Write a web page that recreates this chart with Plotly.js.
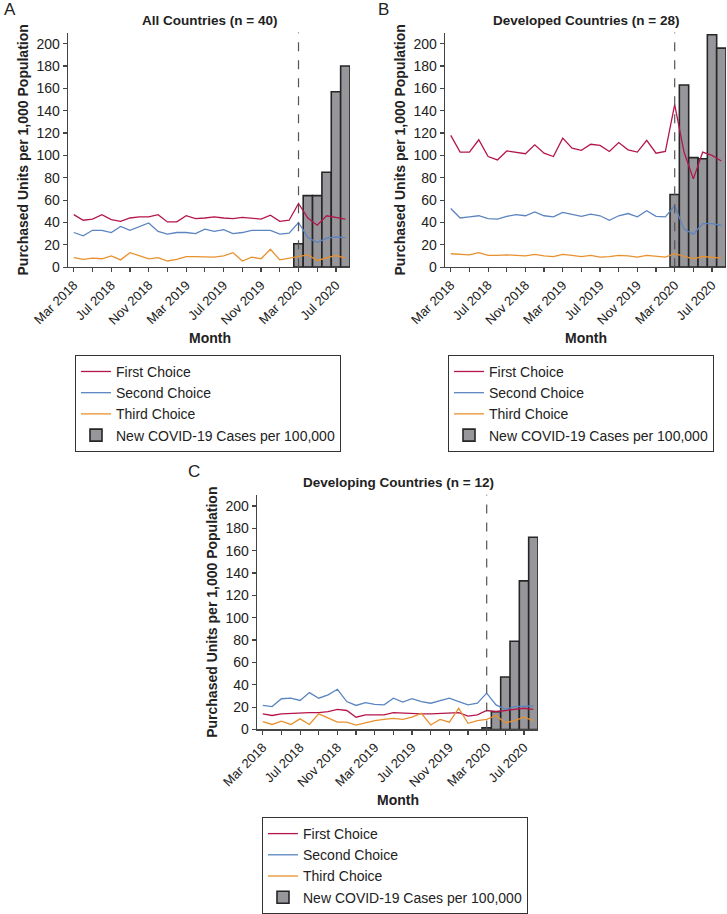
<!DOCTYPE html>
<html>
<head>
<meta charset="utf-8">
<script src="https://cdn.plot.ly/plotly-3.0.1.min.js"></script>
<style>html,body{margin:0;padding:0;background:#fff;}#chart{width:727px;height:914px;}</style>
</head>
<body>
<div id="chart"></div>
<script>
// ---- Data ----
const months = ['Mar 2018','Apr 2018','May 2018','Jun 2018','Jul 2018','Aug 2018','Sep 2018','Oct 2018','Nov 2018','Dec 2018',
  'Jan 2019','Feb 2019','Mar 2019','Apr 2019','May 2019','Jun 2019','Jul 2019','Aug 2019','Sep 2019','Oct 2019',
  'Nov 2019','Dec 2019','Jan 2020','Feb 2020','Mar 2020','Apr 2020','May 2020','Jun 2020','Jul 2020','Aug 2020'];
const caseMonths = ['Mar 2020','Apr 2020','May 2020','Jun 2020','Jul 2020','Aug 2020'];
const tickMonths = ['Mar 2018','May 2018','Jul 2018','Sep 2018','Nov 2018','Jan 2019','Mar 2019','May 2019','Jul 2019','Sep 2019','Nov 2019','Jan 2020','Mar 2020','May 2020','Jul 2020'];
const tickLabels = ['Mar 2018','','Jul 2018','','Nov 2018','','Mar 2019','','Jul 2019','','Nov 2019','','Mar 2020','','Jul 2020'];
const yTicks = [0,20,40,60,80,100,120,140,160,180,200];

const allFirst  = [47,42,43,47,42.5,41,44,45,45,47,40.5,40.5,46,43.5,44,45,44,43.5,44.5,44,43,46.5,41,42,57,44,37.5,46,44.5,43];
const allSecond = [31,28,33,33,31,36.5,33,36,39.5,32,29.5,31,31,30,34,32,33.5,30,31,33,33,33,29.5,30.5,40,26.5,22,26,27,26.5];
const allThird  = [8.5,7,8,7.5,10,6.5,13,10.5,7.5,8.5,5.5,7,9.5,9.5,9.5,9,10,13,5.5,9,7.5,16,6.5,8,10,11,6,8,10.5,8];
const allCases  = [21,64,64,85,157,180];

const devFirst  = [118,103,103,114,99,96,104,103,101.5,109.5,102,99,115.5,106.5,104.5,110,109,103.5,111.5,105,103,113.5,102,103.5,145.5,103,79,103,100,95];
const devSecond = [52.5,44,45,46,43.5,43,45.5,47,46,49.5,46,45,49,47,45.5,47.5,46,42,46,48,45,50.5,45.5,45,55,34,29.5,39,39,37.5];
const devThird  = [12,11.5,11,13,10.5,10.5,11,10.5,10,11.5,10,9.5,11.5,10.5,9.5,10.5,9,9.5,10.5,10,9,10.5,10,9,12,9.5,7.5,9.5,9,8];
const devCases  = [65,163,98,97,208,196];

const dvgFirst  = [14,12.5,14,14.5,15,15,15,16,18,17,11,13,13,13,15,14.5,14.5,14,14,14.5,14.5,15,12,13,17,16,17,18,19,18];
const dvgSecond = [21.5,20.5,27.5,28,26,33,28,31,36,25,21.5,24,22.5,22,28,24.5,27.5,25,23.5,26,28,25,22,23.5,32.5,22,18,20.5,20.5,21];
const dvgThird  = [7,4.5,7.5,4.5,9.5,4.5,14,10,6.5,6.5,4,6,8,9,10,9,11,14.5,4,9,6.5,19,5.5,8,9,12.5,6,8,11,8];
const dvgCases  = [1.5,16,47,79,133,172];

const panelTitles = ['All Countries (n = 40)','Developed Countries (n = 28)','Developing Countries (n = 12)'];
const panelLetters = ['A','B','C'];
const seriesNames = ['First Choice','Second Choice','Third Choice','New COVID-19 Cases per 100,000'];
const xTitle = 'Month';
const yTitle = 'Purchased Units per 1,000 Population';
const lockdownMonth = 'Mar 2020';

// ---- Styles ----
const FONT = 'Liberation Sans, Arial, Helvetica, sans-serif';
const TXT = '#222';
const colors = ['#b5164a','#5b85c0','#e8912e'];
const barFill = '#97979b';
const barLine = '#262626';
const axColor = '#444';

const panels = [
  {first: allFirst, second: allSecond, third: allThird, cases: allCases, xd:[68/727,350/727], yd:[1-271/914,1-33/914], leg:[75,360], month:[210,343]},
  {first: devFirst, second: devSecond, third: devThird, cases: devCases, xd:[445/727,726/727], yd:[1-271/914,1-33/914], leg:[448,360], month:[586,343]},
  {first: dvgFirst, second: dvgSecond, third: dvgThird, cases: dvgCases, xd:[257/727,538/727], yd:[1-740/914,1-502/914], leg:[262,829], month:[398,812]}
];
const titlePos = [[209,21],[586,21],[398,489]];
const letterPos = [[2,10],[376,10],[186,478]];

const traces = [];
const layout = {
  width: 727, height: 914,
  margin: {l:0, r:0, t:0, b:0},
  paper_bgcolor: '#fff', plot_bgcolor: 'rgba(0,0,0,0)',
  font: {family: FONT, color: TXT, size: 14},
  showlegend: true,
  barmode: 'overlay', bargap: 0,
  shapes: [], annotations: []
};

panels.forEach((p, i) => {
  const k = i === 0 ? '' : String(i + 1);
  const xa = 'x' + k, ya = 'y' + k, lg = 'legend' + k;
  traces.push({type:'bar', x: caseMonths, y: p.cases, xaxis: xa, yaxis: ya, name: seriesNames[3], legend: lg,
    width: 1, marker: {color: barFill, line: {color: barLine, width: 1.6}}, legendrank: 4, hoverinfo:'x+y'});
  [p.first, p.second, p.third].forEach((arr, j) => {
    traces.push({type:'scatter', mode:'lines', x: months, y: arr, xaxis: xa, yaxis: ya, name: seriesNames[j], legend: lg,
      line: {color: colors[j], width: 1.3}, legendrank: j + 1});
  });
  layout['xaxis' + k] = {
    domain: p.xd, anchor: ya, type: 'category', categoryorder: 'array', categoryarray: months,
    range: [-0.62, 29.5], tickmode: 'array', tickvals: tickMonths, ticktext: tickLabels, tickangle: -45,
    showline: true, linecolor: axColor, linewidth: 1.3, ticks: 'outside', ticklen: 4, tickcolor: axColor, tickwidth: 1.2,
    showgrid: false, zeroline: false, tickfont: {size: 13, color: TXT, family: FONT}
  };
  layout['yaxis' + k] = {
    domain: p.yd, anchor: xa, range: [0, 210], tickmode: 'array', tickvals: yTicks,
    showline: true, linecolor: axColor, linewidth: 1.3, ticks: 'outside', ticklen: 4, tickcolor: axColor, tickwidth: 1.2,
    showgrid: false, zeroline: false, tickfont: {size: 14, color: TXT, family: FONT},
    title: {text: yTitle, font: {size: 14, weight: 'bold', color: TXT, family: FONT}, standoff: 4}
  };
  layout[lg] = {
    x: p.leg[0]/727, y: 1 - p.leg[1]/914, xanchor: 'left', yanchor: 'top', xref: 'paper', yref: 'paper',
    bordercolor: '#333', borderwidth: 1, bgcolor: '#fff', font: {size: 14, color: TXT, family: FONT},
    traceorder: 'normal', itemwidth: 30
  };
  layout.shapes.push({type:'line', xref: xa, yref: ya + ' domain', x0: lockdownMonth, x1: lockdownMonth, y0: 0, y1: 1,
    line: {color: '#555', width: 1.2, dash: 'dash'}, layer: 'above'});
  layout.annotations.push({text: panelTitles[i], xref:'paper', yref:'paper', x: titlePos[i][0]/727, y: 1 - titlePos[i][1]/914,
    xanchor:'center', yanchor:'middle', showarrow:false, font:{size: 13.5, weight:'bold', color: TXT, family: FONT}});
  layout.annotations.push({text: panelLetters[i], xref:'paper', yref:'paper', x: letterPos[i][0]/727, y: 1 - letterPos[i][1]/914,
    xanchor:'left', yanchor:'middle', showarrow:false, font:{size: 17, color: TXT, family: FONT}});
  layout.annotations.push({text: xTitle, xref:'paper', yref:'paper', x: p.month[0]/727, y: 1 - p.month[1]/914,
    xanchor:'center', yanchor:'middle', showarrow:false, font:{size: 14, weight:'bold', color: TXT, family: FONT}});
});

Plotly.newPlot('chart', traces, layout, {staticPlot: true, displayModeBar: false});
</script>
</body>
</html>
